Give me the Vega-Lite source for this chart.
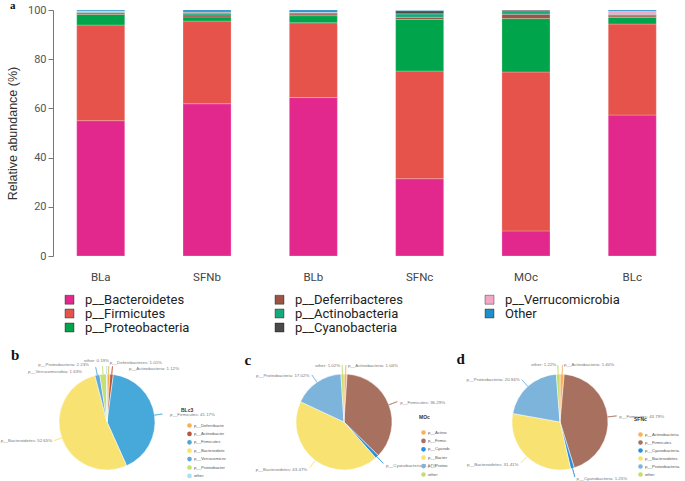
{
  "$schema": "https://vega.github.io/schema/vega-lite/v6.json",
  "padding": 0,
  "background": "white",
  "bounds": "flush",
  "spacing": 116,
  "config": {"view": {"stroke": null}, "font": "Liberation Sans"},
  "resolve": {"scale": {"color": "independent", "theta": "independent"}, "legend": {"color": "independent"}},
  "vconcat": [
    {
      "width": 627,
      "height": 246,
      "title": {"text": "a", "anchor": "start", "frame": "group", "dx": -43, "offset": -16, "baseline": "alphabetic", "font": "Liberation Serif", "fontSize": 11, "fontWeight": "bold", "color": "#111"},
      "data": {"values": [
        {"sample": "BLa", "phylum": "p__Bacteroidetes", "abundance": 55.0},
        {"sample": "BLa", "phylum": "p__Firmicutes", "abundance": 38.9},
        {"sample": "BLa", "phylum": "p__Proteobacteria", "abundance": 4.3},
        {"sample": "BLa", "phylum": "p__Deferribacteres", "abundance": 0.6},
        {"sample": "BLa", "phylum": "p__Actinobacteria", "abundance": 0.3},
        {"sample": "BLa", "phylum": "p__Verrucomicrobia", "abundance": 0.5},
        {"sample": "BLa", "phylum": "Other", "abundance": 0.4},
        {"sample": "SFNb", "phylum": "p__Bacteroidetes", "abundance": 61.9},
        {"sample": "SFNb", "phylum": "p__Firmicutes", "abundance": 33.6},
        {"sample": "SFNb", "phylum": "p__Proteobacteria", "abundance": 1.7},
        {"sample": "SFNb", "phylum": "p__Deferribacteres", "abundance": 0.8},
        {"sample": "SFNb", "phylum": "p__Actinobacteria", "abundance": 0.7},
        {"sample": "SFNb", "phylum": "p__Cyanobacteria", "abundance": 0.4},
        {"sample": "SFNb", "phylum": "p__Verrucomicrobia", "abundance": 0.1},
        {"sample": "SFNb", "phylum": "Other", "abundance": 0.8},
        {"sample": "BLb", "phylum": "p__Bacteroidetes", "abundance": 64.4},
        {"sample": "BLb", "phylum": "p__Firmicutes", "abundance": 30.4},
        {"sample": "BLb", "phylum": "p__Proteobacteria", "abundance": 2.9},
        {"sample": "BLb", "phylum": "p__Deferribacteres", "abundance": 0.7},
        {"sample": "BLb", "phylum": "p__Actinobacteria", "abundance": 0.5},
        {"sample": "BLb", "phylum": "p__Verrucomicrobia", "abundance": 0.2},
        {"sample": "BLb", "phylum": "Other", "abundance": 0.9},
        {"sample": "SFNc", "phylum": "p__Bacteroidetes", "abundance": 31.41},
        {"sample": "SFNc", "phylum": "p__Firmicutes", "abundance": 43.79},
        {"sample": "SFNc", "phylum": "p__Proteobacteria", "abundance": 20.94},
        {"sample": "SFNc", "phylum": "p__Deferribacteres", "abundance": 0.9},
        {"sample": "SFNc", "phylum": "p__Actinobacteria", "abundance": 1.4},
        {"sample": "SFNc", "phylum": "p__Cyanobacteria", "abundance": 1.25},
        {"sample": "SFNc", "phylum": "p__Verrucomicrobia", "abundance": 0.1},
        {"sample": "SFNc", "phylum": "Other", "abundance": 0.21},
        {"sample": "MOc", "phylum": "p__Bacteroidetes", "abundance": 10.2},
        {"sample": "MOc", "phylum": "p__Firmicutes", "abundance": 64.6},
        {"sample": "MOc", "phylum": "p__Proteobacteria", "abundance": 21.7},
        {"sample": "MOc", "phylum": "p__Deferribacteres", "abundance": 1.8},
        {"sample": "MOc", "phylum": "p__Actinobacteria", "abundance": 1.4},
        {"sample": "MOc", "phylum": "p__Cyanobacteria", "abundance": 0.3},
        {"sample": "BLc", "phylum": "p__Bacteroidetes", "abundance": 57.3},
        {"sample": "BLc", "phylum": "p__Firmicutes", "abundance": 37.0},
        {"sample": "BLc", "phylum": "p__Proteobacteria", "abundance": 2.7},
        {"sample": "BLc", "phylum": "p__Deferribacteres", "abundance": 0.6},
        {"sample": "BLc", "phylum": "p__Actinobacteria", "abundance": 0.5},
        {"sample": "BLc", "phylum": "p__Cyanobacteria", "abundance": 0.2},
        {"sample": "BLc", "phylum": "p__Verrucomicrobia", "abundance": 1.2},
        {"sample": "BLc", "phylum": "Other", "abundance": 0.5}
      ]},
      "transform": [
        {"calculate": "indexof(['p__Bacteroidetes','p__Firmicutes','p__Proteobacteria','p__Deferribacteres','p__Actinobacteria','p__Cyanobacteria','p__Verrucomicrobia','Other'], datum.phylum)", "as": "stackOrder"}
      ],
      "mark": {"type": "bar", "stroke": "#ffffff", "strokeWidth": 0.4, "strokeOpacity": 0.6},
      "encoding": {
        "x": {"field": "sample", "type": "nominal", "sort": ["BLa", "SFNb", "BLb", "SFNc", "MOc", "BLc"],
          "scale": {"paddingInner": 0.548, "paddingOuter": 0.223},
          "axis": {"title": null, "labelAngle": 0, "domain": false, "ticks": false, "labelPadding": 15, "labelFontSize": 11.5, "labelColor": "#444", "labelFont": "Roboto"}},
        "y": {"field": "abundance", "type": "quantitative", "stack": "zero", "scale": {"domain": [0, 100]},
          "axis": {"title": "Relative abundance (%)", "values": [0, 20, 40, 60, 80, 100], "grid": false, "tickSize": 5, "domainColor": "#777", "tickColor": "#777", "labelColor": "#555", "labelFontSize": 11, "labelFont": "Roboto", "titleFont": "Liberation Sans", "titleFontSize": 12.5, "titleFontWeight": "normal", "titleColor": "#333", "titlePadding": 8}},
        "color": {"field": "phylum", "type": "nominal",
          "scale": {"domain": ["p__Bacteroidetes", "p__Firmicutes", "p__Proteobacteria", "p__Deferribacteres", "p__Actinobacteria", "p__Cyanobacteria", "p__Verrucomicrobia", "Other"],
                    "range": ["#e3288d", "#e5534b", "#00a44a", "#9c5443", "#17a97b", "#4a4a4a", "#f4a6c6", "#1e8fc9"]},
          "legend": {"title": null, "orient": "none", "legendX": 10, "legendY": 283, "columns": 3, "gridAlign": "all", "symbolType": "square", "symbolSize": 81, "symbolStrokeWidth": 1, "symbolStrokeColor": "rgba(0,0,0,0.35)", "labelFontSize": 13, "labelColor": "#222", "labelFont": "Roboto", "labelOffset": 9, "columnPadding": 73, "rowPadding": 0}},
        "order": {"field": "stackOrder"}
      }
    },
    {
      "hconcat": [
        {
          "width": 108,
          "height": 100,
          "title": {"text": "b", "anchor": "start", "frame": "group", "dx": -42, "offset": -17, "baseline": "alphabetic", "font": "Liberation Serif", "fontSize": 15, "fontWeight": "bold", "color": "#111"},
          "data": {"values": [
            {"name": "p__Deferribacteres", "pct": 1.01},
            {"name": "p__Actinobacteria", "pct": 1.12},
            {"name": "p__Firmicutes", "pct": 41.17},
            {"name": "p__Bacteroidetes", "pct": 52.65},
            {"name": "p__Verrucomicrobia", "pct": 1.63},
            {"name": "p__Proteobacteria", "pct": 2.23},
            {"name": "other", "pct": 0.19}
          ]},
          "transform": [
            {"window": [{"op": "sum", "field": "pct", "as": "cum"}], "frame": [null, 0]},
            {"calculate": "datum.cum - datum.pct", "as": "start"},
            {"calculate": "datum.cum - datum.pct / 2", "as": "mid"},
            {"calculate": "datum.name + ': ' + format(datum.pct, '.2f') + '%'", "as": "label"}
          ],
          "layer": [
            {"mark": {"type": "arc", "radius": 48, "stroke": "#ffffff", "strokeWidth": 0.5},
             "encoding": {
               "theta": {"field": "start", "type": "quantitative", "scale": {"type": "linear", "domain": [0, 100], "range": [0, 6.283185307]}},
               "theta2": {"field": "cum"},
               "color": {"field": "name", "type": "nominal",
                 "scale": {"domain": ["p__Deferribacteres", "p__Actinobacteria", "p__Firmicutes", "p__Bacteroidetes", "p__Verrucomicrobia", "p__Proteobacteria", "other"],
                           "range": ["#f7b050", "#b5563d", "#47a9d9", "#f8e271", "#5da9de", "#c6df75", "#a8e1f0"]},
                 "legend": {"title": "BLc3", "orient": "none", "legendX": 128, "legendY": 36, "symbolType": "circle", "symbolSize": 10, "symbolOffset": 6, "labelFontSize": 4.2, "labelColor": "#555", "labelOffset": 2, "labelExpr": "slice(datum.label, 0, 15)", "titleFontSize": 5, "titleFontWeight": "bold", "titleColor": "#333", "titlePadding": 10, "rowPadding": -2.6}}
             }},
            {"mark": {"type": "arc", "filled": false, "strokeWidth": 0.6},
             "encoding": {
               "theta": {"field": "mid", "type": "quantitative"},
               "theta2": {"field": "mid"},
               "radius": {"value": 56},
               "radius2": {"value": 48},
               "color": {"field": "name", "type": "nominal", "legend": null}
             }},
            {"transform": [{"filter": {"field": "name", "equal": "other"}}],
             "mark": {"type": "text", "align": "right", "baseline": "middle", "fontSize": 4.4, "color": "#777", "dx": 2.3, "dy": -5},
             "encoding": {"theta": {"field": "mid", "type": "quantitative"}, "radius": {"value": 56}, "text": {"field": "label"}}},
            {"transform": [{"filter": {"field": "name", "equal": "p__Deferribacteres"}}],
             "mark": {"type": "text", "align": "left", "baseline": "middle", "fontSize": 4.4, "color": "#777", "dx": 1, "dy": -3},
             "encoding": {"theta": {"field": "mid", "type": "quantitative"}, "radius": {"value": 56}, "text": {"field": "label"}}},
            {"transform": [{"filter": {"field": "name", "equal": "p__Actinobacteria"}}],
             "mark": {"type": "text", "align": "left", "baseline": "middle", "fontSize": 4.4, "color": "#777", "dx": 16.5, "dy": 2.7},
             "encoding": {"theta": {"field": "mid", "type": "quantitative"}, "radius": {"value": 56}, "text": {"field": "label"}}},
            {"transform": [{"filter": {"field": "name", "equal": "p__Verrucomicrobia"}}],
             "mark": {"type": "text", "align": "right", "baseline": "middle", "fontSize": 4.4, "color": "#777", "dx": -13.7, "dy": 4.8},
             "encoding": {"theta": {"field": "mid", "type": "quantitative"}, "radius": {"value": 56}, "text": {"field": "label"}}},
            {"transform": [{"filter": {"field": "name", "equal": "p__Proteobacteria"}}],
             "mark": {"type": "text", "align": "right", "baseline": "middle", "fontSize": 4.4, "color": "#777", "dx": -13.4, "dy": -1.2},
             "encoding": {"theta": {"field": "mid", "type": "quantitative"}, "radius": {"value": 56}, "text": {"field": "label"}}},
            {"transform": [{"filter": {"field": "name", "equal": "p__Firmicutes"}}],
             "mark": {"type": "text", "align": "left", "baseline": "middle", "fontSize": 4.4, "color": "#777", "dx": 7.6, "dy": 1},
             "encoding": {"theta": {"field": "mid", "type": "quantitative"}, "radius": {"value": 56}, "text": {"field": "label"}}},
            {"transform": [{"filter": {"field": "name", "equal": "p__Bacteroidetes"}}],
             "mark": {"type": "text", "align": "right", "baseline": "middle", "fontSize": 4.4, "color": "#777", "dx": -2, "dy": 0},
             "encoding": {"theta": {"field": "mid", "type": "quantitative"}, "radius": {"value": 56}, "text": {"field": "label"}}}
          ]
        },
        {
          "width": 366,
          "height": 100,
          "title": {"text": "c", "anchor": "start", "frame": "group", "dx": 83.5, "offset": -17, "baseline": "alphabetic", "font": "Liberation Serif", "fontSize": 15, "fontWeight": "bold", "color": "#111"},
          "data": {"values": [
            {"name": "p__Actinobacteria", "pct": 1.04},
            {"name": "p__Firmicutes", "pct": 36.29},
            {"name": "p__Cyanobacteria", "pct": 1.17},
            {"name": "p__Bacteroidetes", "pct": 43.47},
            {"name": "p__Proteobacteria", "pct": 17.02},
            {"name": "other", "pct": 1.02}
          ]},
          "transform": [
            {"window": [{"op": "sum", "field": "pct", "as": "cum"}], "frame": [null, 0]},
            {"calculate": "datum.cum - datum.pct", "as": "start"},
            {"calculate": "datum.cum - datum.pct / 2", "as": "mid"},
            {"calculate": "datum.name + ': ' + format(datum.pct, '.2f') + '%'", "as": "label"}
          ],
          "layer": [
            {"mark": {"type": "arc", "radius": 48, "stroke": "#ffffff", "strokeWidth": 0.5},
             "encoding": {
               "theta": {"field": "start", "type": "quantitative", "scale": {"type": "linear", "domain": [0, 100.01], "range": [0, 6.283185307]}},
               "theta2": {"field": "cum"},
               "color": {"field": "name", "type": "nominal",
                 "scale": {"domain": ["p__Actinobacteria", "p__Firmicutes", "p__Cyanobacteria", "p__Bacteroidetes", "p__Proteobacteria", "other"],
                           "range": ["#f7b35a", "#a8705f", "#2a90dc", "#f8e271", "#7db4dc", "#c3dd6f"]},
                 "legend": {"title": "MOc", "orient": "none", "legendX": 258, "legendY": 43, "symbolType": "circle", "symbolSize": 10, "symbolOffset": 2, "labelFontSize": 4.2, "labelColor": "#555", "labelOffset": 2, "labelExpr": "slice(datum.label, 0, 9)", "titleFontSize": 5, "titleFontWeight": "bold", "titleColor": "#333", "titlePadding": 10, "rowPadding": -2.6}}
             }},
            {"mark": {"type": "arc", "filled": false, "strokeWidth": 0.6},
             "encoding": {
               "theta": {"field": "mid", "type": "quantitative"},
               "theta2": {"field": "mid"},
               "radius": {"value": 57},
               "radius2": {"value": 48},
               "color": {"field": "name", "type": "nominal", "legend": null}
             }},
            {"transform": [{"filter": {"field": "name", "oneOf": ["p__Actinobacteria", "p__Firmicutes", "p__Cyanobacteria"]}}],
             "mark": {"type": "text", "align": "left", "baseline": "middle", "fontSize": 4.4, "color": "#777", "dx": 2, "dy": 2},
             "encoding": {"theta": {"field": "mid", "type": "quantitative"}, "radius": {"value": 58}, "text": {"field": "label"}}},
            {"transform": [{"filter": {"field": "name", "oneOf": ["p__Bacteroidetes", "p__Proteobacteria", "other"]}}],
             "mark": {"type": "text", "align": "right", "baseline": "middle", "fontSize": 4.4, "color": "#777", "dx": -2, "dy": 2},
             "encoding": {"theta": {"field": "mid", "type": "quantitative"}, "radius": {"value": 58}, "text": {"field": "label"}}}
          ]
        },
        {
          "width": 66,
          "height": 100,
          "title": {"text": "d", "anchor": "start", "frame": "group", "dx": -70.5, "offset": -17, "baseline": "alphabetic", "font": "Liberation Serif", "fontSize": 15, "fontWeight": "bold", "color": "#111"},
          "data": {"values": [
            {"name": "p__Actinobacteria", "pct": 1.40},
            {"name": "p__Firmicutes", "pct": 43.79},
            {"name": "p__Cyanobacteria", "pct": 1.25},
            {"name": "p__Bacteroidetes", "pct": 31.41},
            {"name": "p__Proteobacteria", "pct": 20.94},
            {"name": "other", "pct": 1.22}
          ]},
          "transform": [
            {"window": [{"op": "sum", "field": "pct", "as": "cum"}], "frame": [null, 0]},
            {"calculate": "datum.cum - datum.pct", "as": "start"},
            {"calculate": "datum.cum - datum.pct / 2", "as": "mid"},
            {"calculate": "datum.name + ': ' + format(datum.pct, '.2f') + '%'", "as": "label"}
          ],
          "layer": [
            {"mark": {"type": "arc", "radius": 48, "stroke": "#ffffff", "strokeWidth": 0.5},
             "encoding": {
               "theta": {"field": "start", "type": "quantitative", "scale": {"type": "linear", "domain": [0, 100.01], "range": [0, 6.283185307]}},
               "theta2": {"field": "cum"},
               "color": {"field": "name", "type": "nominal",
                 "scale": {"domain": ["p__Actinobacteria", "p__Firmicutes", "p__Cyanobacteria", "p__Bacteroidetes", "p__Proteobacteria", "other"],
                           "range": ["#f7b35a", "#a8705f", "#2a90dc", "#f8e271", "#7db4dc", "#c3dd6f"]},
                 "legend": {"title": "SFNc", "orient": "none", "legendX": 107, "legendY": 45, "symbolType": "circle", "symbolSize": 10, "symbolOffset": 4, "labelFontSize": 4.2, "labelColor": "#555", "labelOffset": 2, "titleFontSize": 5, "titleFontWeight": "bold", "titleColor": "#333", "titlePadding": 10, "rowPadding": -3}}
             }},
            {"mark": {"type": "arc", "filled": false, "strokeWidth": 0.6},
             "encoding": {
               "theta": {"field": "mid", "type": "quantitative"},
               "theta2": {"field": "mid"},
               "radius": {"value": 57},
               "radius2": {"value": 48},
               "color": {"field": "name", "type": "nominal", "legend": null}
             }},
            {"transform": [{"filter": {"field": "name", "oneOf": ["p__Actinobacteria", "p__Firmicutes", "p__Cyanobacteria"]}}],
             "mark": {"type": "text", "align": "left", "baseline": "middle", "fontSize": 4.4, "color": "#777", "dx": 1.5, "dy": 1},
             "encoding": {"theta": {"field": "mid", "type": "quantitative"}, "radius": {"value": 58}, "text": {"field": "label"}}},
            {"transform": [{"filter": {"field": "name", "oneOf": ["p__Bacteroidetes", "p__Proteobacteria", "other"]}}],
             "mark": {"type": "text", "align": "right", "baseline": "middle", "fontSize": 4.4, "color": "#777", "dx": -1.5, "dy": 1},
             "encoding": {"theta": {"field": "mid", "type": "quantitative"}, "radius": {"value": 58}, "text": {"field": "label"}}}
          ]
        }
      ],
      "spacing": 0,
      "bounds": "flush",
      "resolve": {"scale": {"color": "independent", "theta": "independent"}, "legend": {"color": "independent"}}
    }
  ]
}
